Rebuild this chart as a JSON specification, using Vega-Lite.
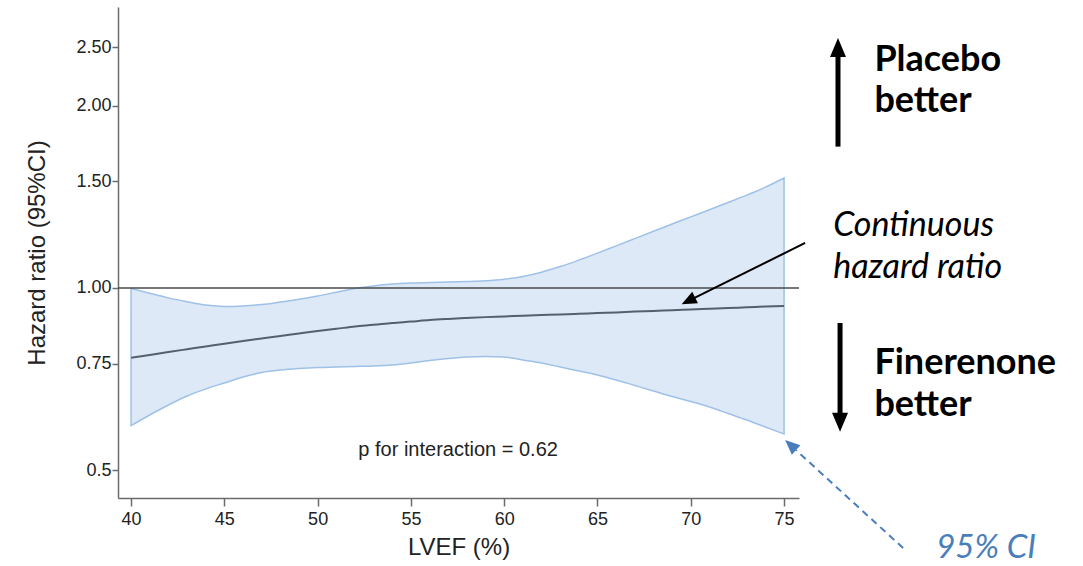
{
  "$schema": "https://vega.github.io/schema/vega-lite/v6.json",
  "width": 681,
  "height": 491,
  "autosize": {"type": "none"},
  "padding": {"left": 118, "top": 7, "right": 284, "bottom": 68},
  "background": "white",
  "config": {
    "view": {"stroke": null},
    "axis": {
      "domainColor": "#6b6b6b", "tickColor": "#6b6b6b", "domainWidth": 1.5, "tickWidth": 1.5,
      "labelFont": "Liberation Sans", "titleFont": "Liberation Sans",
      "labelColor": "#222222", "titleColor": "#222222",
      "labelFontSize": 18, "titleFontSize": 24, "titleFontWeight": "normal", "grid": false
    }
  },
  "layer": [
    {
      "data": {"values": [
        {"x": 40, "lo": 0.592, "hi": 0.998}, {"x": 41, "lo": 0.6166, "hi": 0.980},
        {"x": 42, "lo": 0.6405, "hi": 0.963}, {"x": 43, "lo": 0.6628, "hi": 0.949},
        {"x": 44, "lo": 0.6807, "hi": 0.937}, {"x": 45, "lo": 0.6965, "hi": 0.932},
        {"x": 46, "lo": 0.7126, "hi": 0.934}, {"x": 47, "lo": 0.7249, "hi": 0.939},
        {"x": 48, "lo": 0.7318, "hi": 0.948}, {"x": 49, "lo": 0.7360, "hi": 0.958},
        {"x": 50, "lo": 0.7388, "hi": 0.970}, {"x": 51, "lo": 0.7402, "hi": 0.984},
        {"x": 52, "lo": 0.7416, "hi": 0.998}, {"x": 53, "lo": 0.7430, "hi": 1.008},
        {"x": 54, "lo": 0.7459, "hi": 1.015}, {"x": 55, "lo": 0.7516, "hi": 1.019},
        {"x": 56, "lo": 0.7588, "hi": 1.021}, {"x": 57, "lo": 0.7645, "hi": 1.023},
        {"x": 58, "lo": 0.7689, "hi": 1.025}, {"x": 59, "lo": 0.7704, "hi": 1.028},
        {"x": 60, "lo": 0.7689, "hi": 1.034}, {"x": 61, "lo": 0.7602, "hi": 1.045},
        {"x": 62, "lo": 0.7516, "hi": 1.062}, {"x": 63, "lo": 0.7402, "hi": 1.085},
        {"x": 64, "lo": 0.7290, "hi": 1.112}, {"x": 65, "lo": 0.7180, "hi": 1.142},
        {"x": 66, "lo": 0.7045, "hi": 1.174}, {"x": 67, "lo": 0.6899, "hi": 1.207},
        {"x": 68, "lo": 0.6756, "hi": 1.241}, {"x": 69, "lo": 0.6615, "hi": 1.276},
        {"x": 70, "lo": 0.6491, "hi": 1.311}, {"x": 71, "lo": 0.6356, "hi": 1.347},
        {"x": 72, "lo": 0.6201, "hi": 1.385}, {"x": 73, "lo": 0.6049, "hi": 1.424},
        {"x": 74, "lo": 0.5890, "hi": 1.468}, {"x": 75, "lo": 0.5735, "hi": 1.520}
      ]},
      "mark": {"type": "area", "interpolate": "monotone", "fill": "#dde9f6", "stroke": "#9fc1e7", "strokeWidth": 1.5},
      "encoding": {
        "x": {"field": "x", "type": "quantitative", "title": "LVEF (%)",
          "scale": {"domain": [39.3, 75.8], "nice": false, "zero": false},
          "axis": {"values": [40, 45, 50, 55, 60, 65, 70, 75], "tickSize": 8, "labelPadding": 4, "titlePadding": 7}},
        "y": {"field": "lo", "type": "quantitative", "title": "Hazard ratio (95%CI)",
          "scale": {"type": "log", "domain": [0.4495, 2.915], "nice": false},
          "axis": {"values": [0.5, 0.75, 1, 1.5, 2, 2.5], "tickSize": 6, "labelPadding": 1, "titlePadding": 26,
            "labelExpr": "datum.value == 0.5 ? '0.5' : format(datum.value, '.2f')"}},
        "y2": {"field": "hi"}
      }
    },
    {
      "data": {"values": [{"y": 1}]},
      "mark": {"type": "rule", "color": "#4a4a4a", "strokeWidth": 1.5},
      "encoding": {
        "y": {"field": "y", "type": "quantitative", "title": "Hazard ratio (95%CI)", "scale": {"type": "log", "domain": [0.4495, 2.915], "nice": false}}
      }
    },
    {
      "data": {"values": [
        {"x": 40, "hr": 0.7669}, {"x": 41, "hr": 0.775}, {"x": 42, "hr": 0.7837}, {"x": 43, "hr": 0.792},
        {"x": 44, "hr": 0.8003}, {"x": 45, "hr": 0.809}, {"x": 46, "hr": 0.8172}, {"x": 47, "hr": 0.825},
        {"x": 48, "hr": 0.8329}, {"x": 49, "hr": 0.841}, {"x": 50, "hr": 0.849}, {"x": 51, "hr": 0.856},
        {"x": 52, "hr": 0.8636}, {"x": 53, "hr": 0.869}, {"x": 54, "hr": 0.8752}, {"x": 55, "hr": 0.880},
        {"x": 56, "hr": 0.8853}, {"x": 57, "hr": 0.889}, {"x": 58, "hr": 0.8921}, {"x": 59, "hr": 0.895},
        {"x": 60, "hr": 0.8972}, {"x": 61, "hr": 0.900}, {"x": 62, "hr": 0.9023}, {"x": 63, "hr": 0.904},
        {"x": 64, "hr": 0.9064}, {"x": 65, "hr": 0.909}, {"x": 66, "hr": 0.9109}, {"x": 67, "hr": 0.914},
        {"x": 68, "hr": 0.9161}, {"x": 69, "hr": 0.919}, {"x": 70, "hr": 0.9214}, {"x": 71, "hr": 0.924},
        {"x": 72, "hr": 0.9267}, {"x": 73, "hr": 0.929}, {"x": 74, "hr": 0.932}, {"x": 75, "hr": 0.9338}
      ]},
      "mark": {"type": "line", "interpolate": "monotone", "color": "#56606c", "strokeWidth": 2},
      "encoding": {
        "x": {"field": "x", "type": "quantitative", "title": "LVEF (%)"},
        "y": {"field": "hr", "type": "quantitative", "title": "Hazard ratio (95%CI)", "scale": {"type": "log", "domain": [0.4495, 2.915], "nice": false}}
      }
    },
    {
      "data": {"values": [{"x": 57.53, "y": 0.5274, "label": "p for interaction = 0.62"}]},
      "mark": {"type": "text", "font": "Liberation Sans", "fontSize": 20, "align": "center", "baseline": "alphabetic", "color": "#222222"},
      "encoding": {
        "x": {"field": "x", "type": "quantitative", "title": "LVEF (%)"},
        "y": {"field": "y", "type": "quantitative", "title": "Hazard ratio (95%CI)", "scale": {"type": "log", "domain": [0.4495, 2.915], "nice": false}},
        "text": {"field": "label"}
      }
    },
    {
      "data": {"values": [
        {"x": 77.89, "y": 1.713, "x2": 77.89, "y2": 2.41},
        {"x": 78.0, "y": 0.8752, "x2": 78.0, "y2": 0.6213}
      ]},
      "mark": {"type": "rule", "color": "#000000", "strokeWidth": 5},
      "encoding": {
        "x": {"field": "x", "type": "quantitative", "title": "LVEF (%)"},
        "y": {"field": "y", "type": "quantitative", "title": "Hazard ratio (95%CI)", "scale": {"type": "log", "domain": [0.4495, 2.915], "nice": false}},
        "x2": {"field": "x2"}, "y2": {"field": "y2"}
      }
    },
    {
      "data": {"values": [{"x": 76.13, "y": 1.187, "x2": 70.2, "y2": 0.9634}]},
      "mark": {"type": "rule", "color": "#000000", "strokeWidth": 2},
      "encoding": {
        "x": {"field": "x", "type": "quantitative", "title": "LVEF (%)"},
        "y": {"field": "y", "type": "quantitative", "title": "Hazard ratio (95%CI)", "scale": {"type": "log", "domain": [0.4495, 2.915], "nice": false}},
        "x2": {"field": "x2"}, "y2": {"field": "y2"}
      }
    },
    {
      "data": {"values": [{"x": 81.38, "y": 0.3715, "x2": 75.64, "y2": 0.5394}]},
      "mark": {"type": "rule", "color": "#4a7ebb", "strokeWidth": 2, "strokeDash": [7, 5]},
      "encoding": {
        "x": {"field": "x", "type": "quantitative", "title": "LVEF (%)"},
        "y": {"field": "y", "type": "quantitative", "title": "Hazard ratio (95%CI)", "scale": {"type": "log", "domain": [0.4495, 2.915], "nice": false}},
        "x2": {"field": "x2"}, "y2": {"field": "y2"}
      }
    },
    {
      "data": {"values": [{"x": 77.89, "y": 2.499}]},
      "mark": {"type": "point", "shape": "M0,-1L0.84,1L-0.84,1Z", "size": 361, "filled": true, "opacity": 1, "color": "#000000", "strokeWidth": 0},
      "encoding": {
        "x": {"field": "x", "type": "quantitative", "title": "LVEF (%)"},
        "y": {"field": "y", "type": "quantitative", "title": "Hazard ratio (95%CI)", "scale": {"type": "log", "domain": [0.4495, 2.915], "nice": false}}
      }
    },
    {
      "data": {"values": [{"x": 78.0, "y": 0.5997}]},
      "mark": {"type": "point", "shape": "M0,-1L0.84,1L-0.84,1Z", "size": 361, "angle": 180, "filled": true, "opacity": 1, "color": "#000000", "strokeWidth": 0},
      "encoding": {
        "x": {"field": "x", "type": "quantitative", "title": "LVEF (%)"},
        "y": {"field": "y", "type": "quantitative", "title": "Hazard ratio (95%CI)", "scale": {"type": "log", "domain": [0.4495, 2.915], "nice": false}}
      }
    },
    {
      "data": {"values": [{"x": 69.87, "y": 0.952}]},
      "mark": {"type": "point", "shape": "M0,-1L0.85,1L-0.85,1Z", "size": 225, "angle": 243.6, "filled": true, "opacity": 1, "color": "#000000", "strokeWidth": 0},
      "encoding": {
        "x": {"field": "x", "type": "quantitative", "title": "LVEF (%)"},
        "y": {"field": "y", "type": "quantitative", "title": "Hazard ratio (95%CI)", "scale": {"type": "log", "domain": [0.4495, 2.915], "nice": false}}
      }
    },
    {
      "data": {"values": [{"x": 75.35, "y": 0.55}]},
      "mark": {"type": "point", "shape": "M0,-1L0.85,1L-0.85,1Z", "size": 225, "angle": 312.5, "filled": true, "opacity": 1, "color": "#4a7ebb", "strokeWidth": 0},
      "encoding": {
        "x": {"field": "x", "type": "quantitative", "title": "LVEF (%)"},
        "y": {"field": "y", "type": "quantitative", "title": "Hazard ratio (95%CI)", "scale": {"type": "log", "domain": [0.4495, 2.915], "nice": false}}
      }
    },
    {
      "data": {"values": [
        {"x": 79.84, "y": 2.285, "label": "Placebo"},
        {"x": 79.84, "y": 1.955, "label": "better"},
        {"x": 79.84, "y": 0.7207, "label": "Finerenone"},
        {"x": 79.84, "y": 0.6142, "label": "better"}
      ]},
      "mark": {"type": "text", "font": "Lato", "fontWeight": "bold", "fontSize": 36, "align": "left", "baseline": "alphabetic", "color": "#000000"},
      "encoding": {
        "x": {"field": "x", "type": "quantitative", "title": "LVEF (%)"},
        "y": {"field": "y", "type": "quantitative", "title": "Hazard ratio (95%CI)", "scale": {"type": "log", "domain": [0.4495, 2.915], "nice": false}},
        "text": {"field": "label"}
      }
    },
    {
      "data": {"values": [
        {"x": 77.63, "y": 1.219, "label": "Continuous"},
        {"x": 77.63, "y": 1.039, "label": "hazard ratio"}
      ]},
      "mark": {"type": "text", "font": "Lato", "fontStyle": "italic", "fontSize": 34, "align": "left", "baseline": "alphabetic", "color": "#000000"},
      "encoding": {
        "x": {"field": "x", "type": "quantitative", "title": "LVEF (%)"},
        "y": {"field": "y", "type": "quantitative", "title": "Hazard ratio (95%CI)", "scale": {"type": "log", "domain": [0.4495, 2.915], "nice": false}},
        "text": {"field": "label"}
      }
    },
    {
      "data": {"values": [{"x": 83.15, "y": 0.3577, "label": "95% CI"}]},
      "mark": {"type": "text", "font": "Lato", "fontStyle": "italic", "fontSize": 33, "align": "left", "baseline": "alphabetic", "color": "#4a7ebb"},
      "encoding": {
        "x": {"field": "x", "type": "quantitative", "title": "LVEF (%)"},
        "y": {"field": "y", "type": "quantitative", "title": "Hazard ratio (95%CI)", "scale": {"type": "log", "domain": [0.4495, 2.915], "nice": false}},
        "text": {"field": "label"}
      }
    }
  ]
}
